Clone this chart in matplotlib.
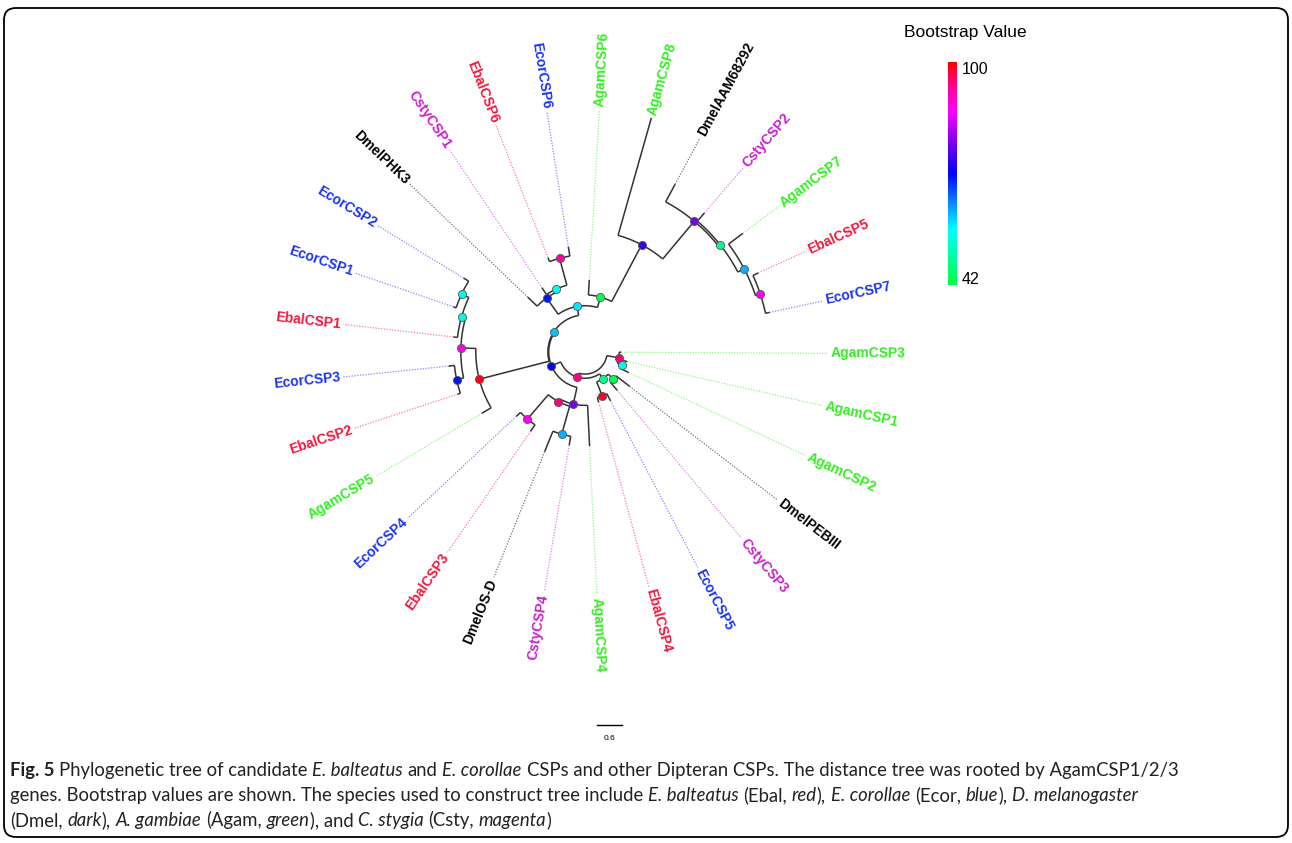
import numpy as np
import matplotlib
matplotlib.use("Agg")
import matplotlib.pyplot as plt
from matplotlib.colors import LinearSegmentedColormap, Normalize
from matplotlib.patches import FancyBboxPatch

W, H = 1292, 843

# tip order around the circle (counter-clockwise, starting right of AgamCSP3)
leaves = ["EcorCSP7", "EbalCSP5", "AgamCSP7", "CstyCSP2", "DmelAAM68292", "AgamCSP8",
          "AgamCSP6", "EcorCSP6", "EbalCSP6", "CstyCSP1", "DmelPHK3", "EcorCSP2",
          "EcorCSP1", "EbalCSP1", "EcorCSP3", "EbalCSP2", "AgamCSP5", "EcorCSP4",
          "EbalCSP3", "DmelOS-D", "CstyCSP4", "AgamCSP4", "EbalCSP4", "EcorCSP5",
          "CstyCSP3", "DmelPEBIII", "AgamCSP2", "AgamCSP1", "AgamCSP3"]
leaf_parent = ["R5", "R5", "R4", "R3", "R2", "R1",
               "G", "TP", "TP", "TC", "TL", "LC2",
               "LC2", "LC1", "LB", "LB", "L", "BM",
               "BM", "BB", "BB", "B", "E45", "E45",
               "C3P", "C3P", "A12", "A12", "A123"]
leaf_length = [0.10, 0.14, 0.43, 0.26, 0.48, 2.93,
               0.36, 0.22, 0.10, 0.19, 0.31, 0.14,
               0.07, 0.10, 0.14, 0.07, 0.26, 0.14,
               0.19, 0.53, 0.22, 0.98, 0.12, 0.19,
               0.26, 0.41, 0.22, 0.10, 0.05]

# internal nodes
nodes = ["root", "A123", "A12", "P", "BR", "E45", "C3P", "Q", "S", "B", "BP", "BM", "BB",
         "L", "LM", "LC1", "LC2", "LB", "T", "TL", "TC", "TP", "G", "R1", "R2", "R3", "R4", "R5"]
node_parent = [None, "root", "A123", "root", "P", "BR", "BR", "P", "Q", "Q", "B", "BP", "BP",
               "S", "L", "LM", "LC1", "LM", "S", "T", "TL", "TC", "T", "G", "R1", "R2", "R3", "R4"]
node_length = [0.53, 0.29, 0.12, 0.10, 0.14, 0.36, 0.17, 0.24, 0.02, 0.41, 0.07, 0.77, 0.70,
               1.73, 0.36, 0.10, 0.19, 0.17, 0.22, 0.48, 0.07, 0.67, 0.26, 1.54, 1.18, 0.05, 0.17, 0.12]
bootstrap = [None, 95, 55, 94, 48, 98, 43, 71, 60, 79, 95, 88, 61,
             99, 88, 55, 55, 70, 58, 70, 56, 93, 44, 75, 79, 48, 61, 87]

species_colors = {"Ebal": "#f5163c", "Ecor": "#1a33f5", "Dmel": "#000000",
                  "Agam": "#33ee22", "Csty": "#cc1fcc"}

boot_min, boot_max = 42, 100
boot_cmap = LinearSegmentedColormap.from_list("boot", [
    (0.0, "#00ff40"), (0.12, "#00ff99"), (0.25, "#00ffff"), (0.37, "#0a84ff"),
    (0.5, "#0000ff"), (0.63, "#7000ee"), (0.78, "#ff00ff"), (0.9, "#ff0088"), (1.0, "#ff0000")])

# layout
cx, cy = 585, 352
px_per_unit = 25 / 0.6
label_r = 245
theta0 = 12.1

parent = dict(zip(nodes, node_parent))
parent.update(zip(leaves, leaf_parent))
length = dict(zip(nodes, node_length))
length.update(zip(leaves, leaf_length))
support = dict(zip(nodes, bootstrap))

children = {n: [] for n in nodes}
for name in nodes + leaves:
    if parent[name] is not None:
        children[parent[name]].append(name)

angle = {name: theta0 + i * 360 / len(leaves) for i, name in enumerate(leaves)}


def node_angle(n):
    if n not in angle:
        a = [node_angle(c) for c in children[n]]
        angle[n] = (min(a) + max(a)) / 2
    return angle[n]


def node_depth(n):
    if parent[n] is None:
        return length[n]
    return node_depth(parent[n]) + length[n]


def xy(r, a):
    t = np.radians(a)
    return cx + r * np.cos(t), cy - r * np.sin(t)


for n in nodes:
    node_angle(n)
depth = {n: node_depth(n) * px_per_unit for n in nodes + leaves}

fig = plt.figure(figsize=(W / 100, H / 100), dpi=100)
ax = fig.add_axes([0, 0, 1, 1])
ax.set_xlim(0, W)
ax.set_ylim(H, 0)
ax.axis("off")

ax.add_patch(FancyBboxPatch((4, 8), W - 8, H - 14, boxstyle="round,pad=0,rounding_size=12",
                            fill=False, ec="black", lw=1.3))

branch_kw = dict(color="#333333", lw=1.1, solid_capstyle="butt", zorder=2)

# radial branches
for n in nodes + leaves:
    if parent[n] is None:
        continue
    x0, y0 = xy(depth[parent[n]], angle[n])
    x1, y1 = xy(depth[n], angle[n])
    ax.plot([x0, x1], [y0, y1], **branch_kw)

# arcs
for n in nodes:
    a = [angle[c] for c in children[n]]
    t = np.linspace(min(a), max(a), 80)
    x, y = xy(depth[n], t)
    ax.plot(x, y, **branch_kw)

# dotted leaders + labels
for n in leaves:
    col = species_colors[n[:4]]
    a = angle[n]
    if depth[n] < label_r - 3:
        x0, y0 = xy(depth[n], a)
        x1, y1 = xy(label_r - 2, a)
        ax.plot([x0, x1], [y0, y1], color=col, lw=0.9, alpha=0.55,
                linestyle=(0, (1, 1.2)), zorder=1)
    lx, ly = xy(label_r + 1, a)
    if 90 < a < 270:
        rot, ha = a - 180, "right"
    else:
        rot, ha = a, "left"
    ax.text(lx, ly, n, rotation=rot, ha=ha, va="center", rotation_mode="anchor",
            color=col, fontsize=10, fontweight="bold", family="Liberation Sans")

# bootstrap dots
norm = Normalize(boot_min, boot_max)
for n in nodes:
    if support[n] is None:
        continue
    x, y = xy(depth[n], angle[n])
    ax.scatter(x, y, s=34, color=boot_cmap(norm(support[n])), edgecolors="#555555",
               linewidths=0.6, zorder=4)

# colour bar
grad = np.linspace(boot_max, boot_min, 256)[:, None]
ax.imshow(grad, cmap=boot_cmap, norm=norm, extent=(948, 957, 285, 62),
          origin="upper", aspect="auto", zorder=3)
ax.set_xlim(0, W)
ax.set_ylim(H, 0)
ax.text(965, 33, "Bootstrap Value", ha="center", va="center", fontsize=12.5,
        family="Liberation Sans")
ax.text(962, 70, str(boot_max), ha="left", va="center", fontsize=11.5, family="Liberation Sans")
ax.text(962, 279, str(boot_min), ha="left", va="center", fontsize=11.5, family="Liberation Sans")

# scale bar
scale_len = 0.6
ax.plot([597, 597 + scale_len * px_per_unit], [725, 725], color="black", lw=1)
ax.text(597 + scale_len * px_per_unit / 2, 739, "0.6", ha="center", va="center",
        fontsize=6, family="Liberation Sans")

# caption
caption = [
    [("Fig. 5", "bold"), (" Phylogenetic tree of candidate ", "normal"), ("E. balteatus", "italic"),
     (" and ", "normal"), ("E. corollae", "italic"),
     (" CSPs and other Dipteran CSPs. The distance tree was rooted by AgamCSP1/2/3", "normal")],
    [("genes. Bootstrap values are shown. The species used to construct tree include ", "normal"),
     ("E. balteatus", "italic"), (" (Ebal, ", "normal"), ("red", "italic"), ("), ", "normal"),
     ("E. corollae", "italic"), (" (Ecor, ", "normal"), ("blue", "italic"), ("), ", "normal"),
     ("D. melanogaster", "italic")],
    [("(Dmel, ", "normal"), ("dark", "italic"), ("), ", "normal"), ("A. gambiae", "italic"),
     (" (Agam, ", "normal"), ("green", "italic"), ("), and ", "normal"), ("C. stygia", "italic"),
     (" (Csty, ", "normal"), ("magenta", "italic"), (")", "normal")],
]
renderer = fig.canvas.get_renderer()
cap_font = "Lato"


def style_kw(style, size):
    kw = dict(fontsize=size, family=cap_font, va="baseline", ha="left", color="#222222")
    if style == "bold":
        kw["fontweight"] = "bold"
    elif style == "italic":
        kw["fontstyle"] = "italic"
    return kw


def draw_line(x, y, parts, size):
    t1 = ax.text(0, 0, "a a", **style_kw("normal", size))
    t2 = ax.text(0, 0, "aa", **style_kw("normal", size))
    sp = t1.get_window_extent(renderer).width - t2.get_window_extent(renderer).width
    t1.remove()
    t2.remove()
    out = []
    for s, style in parts:
        lead = len(s) - len(s.lstrip(" "))
        trail = len(s) - len(s.rstrip(" "))
        x += lead * sp
        t = ax.text(x, y, s.strip(), **style_kw(style, size))
        out.append(t)
        x += t.get_window_extent(renderer).width + trail * sp
    return x, out


size = 12.5
end, tmp = draw_line(10, 776, caption[0], size)
for t in tmp:
    t.remove()
size = size * (1183 - 10) / (end - 10)

for i, parts in enumerate(caption):
    draw_line(10, 776 + i * 25, parts, size)

fig.savefig("out.png", dpi=100)
